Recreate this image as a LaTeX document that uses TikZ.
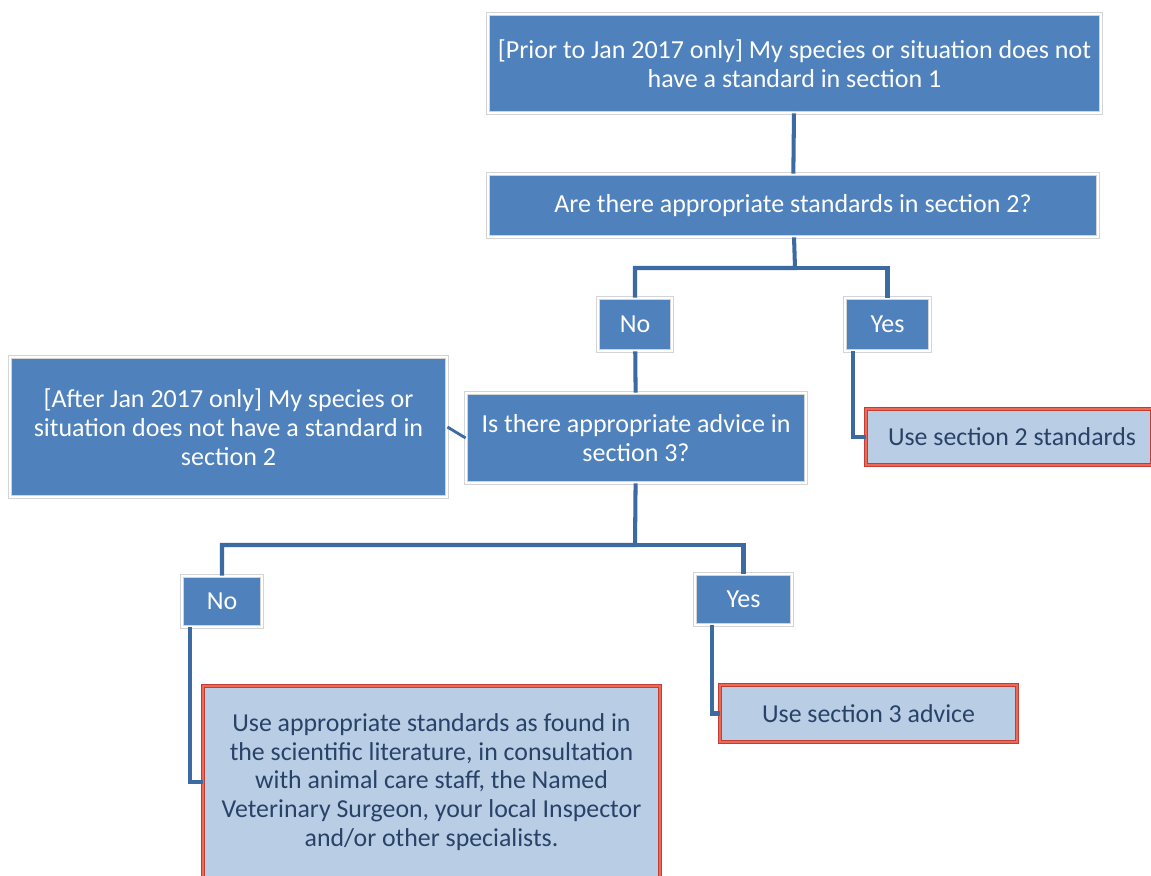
\documentclass[tikz,border=0pt]{standalone}
\usepackage{fontspec}
\setmainfont{Carlito}
\definecolor{boxblue}{RGB}{79,129,189}
\definecolor{linkblue}{RGB}{60,106,162}
\definecolor{leafblue}{RGB}{185,205,229}
\definecolor{leaftext}{RGB}{40,66,104}
\definecolor{leafred}{RGB}{238,104,88}
\definecolor{edgered}{RGB}{192,62,52}
\definecolor{rimgray}{RGB}{212,212,212}

\begin{document}
\begin{tikzpicture}[x=0.02cm,y=-0.02cm,
  qbox/.style={draw=rimgray,double=white,double distance=1.6pt,line width=0.5pt,
    fill=boxblue,text=white,align=center,inner sep=0pt,
    font=\fontsize{14.8}{16.4}\selectfont},
  leafbox/.style={draw=edgered,double=leafred,double distance=1.3pt,line width=0.5pt,
    fill=leafblue,text=leaftext,align=center,inner sep=0pt,
    font=\fontsize{14.7}{16.3}\selectfont},
  link/.style={draw=linkblue,line width=2.3pt}]
  \useasboundingbox (0,0) rectangle (1151,875);
  \clip (0,0) rectangle (1151,875);

  % questions
  \node[qbox,minimum width=12.26cm,minimum height=1.98cm] (start) at (794.5,63.5)
    {[Prior to Jan 2017 only] My species or situation does not\\ have a standard in section 1};
  \node[qbox,minimum width=12.2cm,minimum height=1.26cm] (sectwo) at (793,205.5)
    {Are there appropriate standards in section 2?};
  \node[qbox,minimum width=6.8cm,minimum height=1.8cm] (secthree) at (636,438)
    {Is there appropriate advice in\\ section 3?};
  \node[qbox,minimum width=8.74cm,minimum height=2.8cm] (after) at (228.5,427)
    {[After Jan 2017 only] My species or\\ situation does not have a standard in\\ section 2};

  % answers
  \node[qbox,minimum width=1.48cm,minimum height=1.06cm] (no1) at (635,324.5) {No};
  \node[qbox,minimum width=1.7cm,minimum height=1.06cm] (yes1) at (887.5,324.5) {Yes};
  \node[qbox,minimum width=1.6cm,minimum height=1.02cm] (no2) at (222,601.5) {No};
  \node[qbox,minimum width=1.94cm,minimum height=1.02cm] (yes2) at (743.5,599.5) {Yes};

  % outcomes
  \node[leafbox,minimum width=5.72cm,minimum height=1.12cm] (usetwo) at (1009,437)
    {\hspace*{0.12cm}Use section 2 standards};
  \node[leafbox,minimum width=5.94cm,minimum height=1.14cm] (usethree) at (868.5,713.5)
    {Use section 3 advice};
  \node[leafbox,minimum width=9.14cm,minimum height=3.84cm] (useother) at (431.5,782)
    {Use appropriate standards as found in\\ the scientific literature, in consultation\\
     with animal care staff, the Named\\ Veterinary Surgeon, your local Inspector\\
     and/or other specialists.};

  \coordinate (fork1) at (795,268);
  \coordinate (fork2) at (635,545);

  \draw[link] (start) -- (sectwo);
  \draw[link] (sectwo) -- (fork1) -| (no1);
  \draw[link] (fork1) -| (yes1);
  \draw[link] (no1) -- (secthree);
  \draw[link] (yes1.south west) ++(8,0) |- (usetwo.west);
  \draw[link,line width=1.6pt] (after.east) -- (secthree.west);
  \draw[link] (secthree) -- (fork2) -| (no2);
  \draw[link] (fork2) -| (yes2);
  \draw[link] (no2.south west) ++(8,0) |- (useother.west);
  \draw[link] (yes2.south west) ++(17,0) |- (usethree.west);
\end{tikzpicture}
\end{document}
